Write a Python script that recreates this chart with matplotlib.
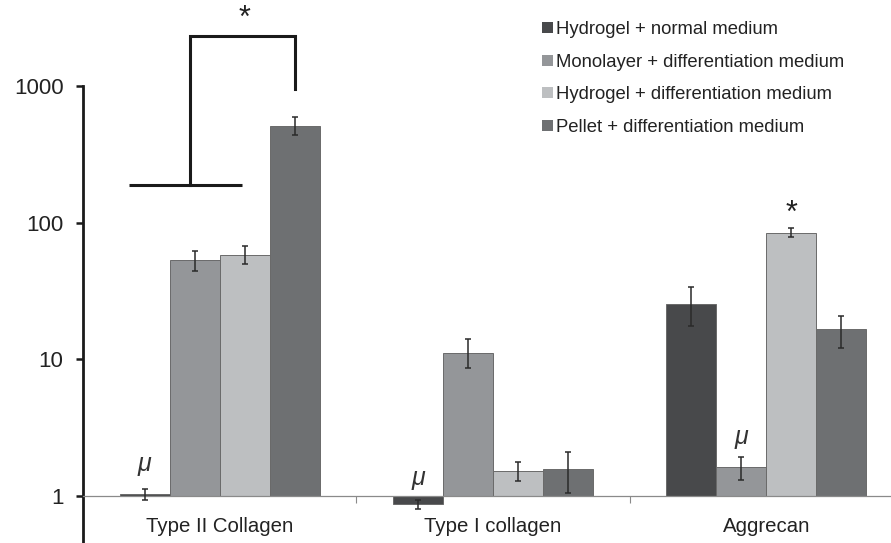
import numpy as np
import matplotlib
matplotlib.use('Agg')
from matplotlib import pyplot as plt

plt.rcParams['font.family'] = ['Liberation Sans', 'DejaVu Sans']

genes = ['Type II Collagen', 'Type I collagen', 'Aggrecan']
series = ['Hydrogel + normal medium', 'Monolayer + differentiation medium',
          'Hydrogel + differentiation medium', 'Pellet + differentiation medium']
colors = ['#48494b', '#949699', '#bdbfc1', '#6e7072']

# fold change values, one list per condition (order of genes)
hydrogel_normal = [1.03, 0.87, 25.6]
monolayer_diff = [53.7, 11.2, 1.63]
hydrogel_diff = [58.4, 1.52, 84.5]
pellet_diff = [510, 1.57, 16.6]

# error bar ends (low, high)
hydrogel_normal_err = [(0.93, 1.13), (0.80, 0.94), (17.7, 34.0)]
monolayer_diff_err = [(44.6, 62.5), (8.7, 14.2), (1.31, 1.93)]
hydrogel_diff_err = [(50.0, 67.0), (1.29, 1.77), (78.0, 90.8)]
pellet_diff_err = [(440, 590), (1.05, 2.09), (12.2, 20.9)]

values = [hydrogel_normal, monolayer_diff, hydrogel_diff, pellet_diff]
errors = [hydrogel_normal_err, monolayer_diff_err, hydrogel_diff_err, pellet_diff_err]

fig = plt.figure(figsize=(8.91, 5.43), dpi=100)
ax = fig.add_axes([83 / 891, 0, 820 / 891, 457 / 543])
ax.set_yscale('log')

x = np.arange(len(genes))
w = 0.183
for i, (vals, errs) in enumerate(zip(values, errors)):
    pos = x + (i - 1.5) * w
    vals = np.array(vals)
    heights = vals - 1
    ax.bar(pos, heights, width=w, bottom=1, color=colors[i], edgecolor='#6a6a6a',
           linewidth=0.7, label=series[i], zorder=2)
    lo = vals - np.array([e[0] for e in errs])
    hi = np.array([e[1] for e in errs]) - vals
    ax.errorbar(pos, vals, yerr=[lo, hi], fmt='none', ecolor='#2a2a2a',
                elinewidth=1.1, capsize=2.5, capthick=1.1, zorder=3)

ax.set_xlim(-0.5, 2.5)
ax.set_ylim(10 ** -0.343, 1000)

for s in ['top', 'right']:
    ax.spines[s].set_visible(False)
ax.spines['left'].set_linewidth(2.0)
ax.spines['left'].set_color('#1a1a1a')
ax.spines['bottom'].set_position(('data', 1))
ax.spines['bottom'].set_color('#8a8a8a')
ax.spines['bottom'].set_linewidth(0.9)

ax.set_yticks([1, 10, 100, 1000])
ax.set_yticklabels(['1', '10', '100', '1000'])
ax.yaxis.set_minor_locator(matplotlib.ticker.NullLocator())
ax.tick_params(axis='y', length=5, width=1.8, color='#1a1a1a', labelsize=16,
               pad=9, labelcolor='#222222')

ax.set_xticks([0.5, 1.5])
ax.set_xticklabels(['', ''])
ax.set_xticks(x, minor=True)
ax.set_xticklabels(genes, minor=True)
ax.tick_params(axis='x', which='major', length=5, width=0.8, color='#8a8a8a')
ax.tick_params(axis='x', which='minor', length=0, labelsize=14.7, pad=15, labelcolor='#222222')

# significance marks
for xi, yi in [(-1.5 * w, 1.71), (1 - 1.5 * w, 1.35), (2 - 0.5 * w, 2.70)]:
    ax.text(xi, yi, 'μ', fontsize=18, style='italic', ha='center', va='center', color='#333333')
ax.text(2 + 0.5 * w, 116, '*', fontsize=22, ha='center', va='center', color='#222222')

bx = [-0.333, 0.08]
ax.plot(bx, [189, 189], color='#1a1a1a', lw=2.2, clip_on=False, solid_capstyle='butt')
ax.plot([-0.11, -0.11, 1.5 * w, 1.5 * w], [189, 2317, 2317, 951], color='#1a1a1a',
        lw=2.2, clip_on=False, solid_joinstyle='miter')
ax.text(0.09, 3084, '*', fontsize=22, ha='center', va='center', color='#222222')

leg = ax.legend(loc='upper left', bbox_to_anchor=(535 / 891, 1 - 14 / 543),
                bbox_transform=fig.transFigure, frameon=False, fontsize=13.3,
                handlelength=0.55, handleheight=0.55, handletextpad=0.2,
                labelspacing=0.84, borderaxespad=0)
for h in leg.legend_handles:
    h.set_edgecolor('none')
for t in leg.get_texts():
    t.set_color('#222222')

fig.savefig('out.png', dpi=100)
